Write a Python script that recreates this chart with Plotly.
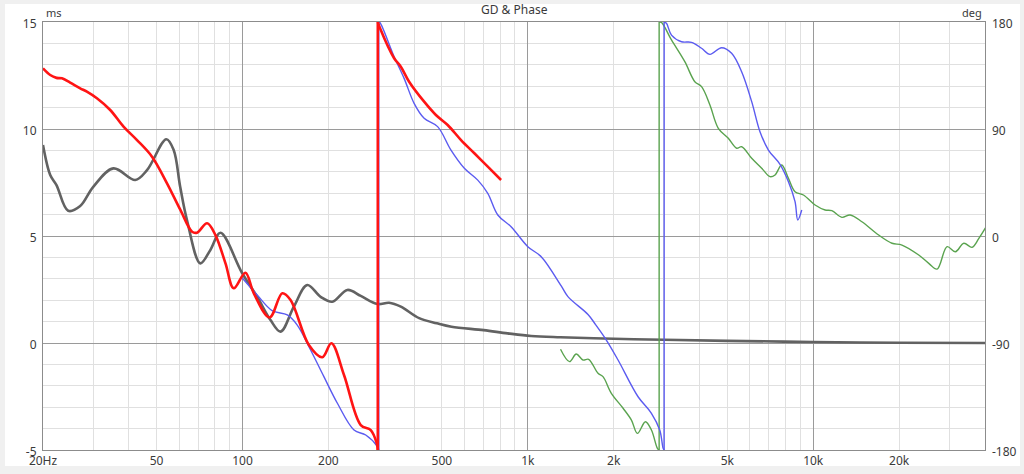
import plotly.graph_objects as go

# group delay (ms), grey trace
gd_freq = [20, 21.2, 22.3, 24.5, 27, 30, 35.3, 42.1, 46.3, 54.1, 57.4, 60.5, 63.9, 71.2, 77.2, 83.7,
           99.7, 112.6, 125.4, 136, 151.4, 168.7, 187.9, 206.5, 233.2, 259.7, 297, 326.5, 358.9,
           416, 480, 540, 700, 850, 1027, 1300, 2000, 3000, 5000, 10000, 20000, 40000]
gd_ms = [9.25, 7.85, 7.38, 6.18, 6.40, 7.30, 8.16, 7.62, 8.08, 9.52, 9.02, 7.30, 5.75, 3.72, 4.35, 5.15,
         3.27, 2.16, 1.07, 0.53, 1.70, 2.71, 2.16, 1.93, 2.48, 2.20, 1.82, 1.88, 1.70,
         1.16, 0.92, 0.76, 0.60, 0.45, 0.33, 0.27, 0.20, 0.15, 0.10, 0.05, 0.01, 0.0]

# phase (deg), red trace
red_freq = [20, 21.2, 22.3, 23.3, 24.9, 27, 28.5, 30.9, 34.4, 38.3, 42.7, 48.2, 54.4, 60.6, 66.6, 69.3,
            75.2, 80.4, 87.2, 93.2, 102.4, 109.6, 124.5, 137.9, 147.4, 170.9, 190.4, 204.9, 226.9,
            259.7, 281.6, 295.6, 298, 298, 303.5, 340, 358.9, 383.7, 433.2, 476.3, 523.7, 583.4,
            649.6, 723.9, 805.9]
red_deg = [141, 135.4, 133, 132.6, 129, 124.2, 121.4, 115.8, 106, 92, 80.7, 66.7, 44.3, 21.9, 3.6, 2.8,
           10.7, 0.8, -23, -44, -30.9, -48.2, -68.5, -48.2, -53.8, -91.7, -102, -90.2, -116.9,
           -159, -163.2, -174.4, -180, 180, 174.7, 149.5, 142.4, 129.8, 113, 101.8, 93.4, 80.7,
           69.6, 58.3, 47.1]

# phase (deg), blue trace
blue_freq = [100, 112.6, 127.1, 143.6, 155.6, 173.3, 192.9, 215.1, 246, 270.4, 297.2, 300.4, 300.4,
             303.5, 340, 368.5, 399.5, 433.2, 482.9, 537.9, 599.2, 667.7, 723.9, 784.9, 873.7, 1000,
             1114, 1309, 1382, 1625, 1714, 1884, 2071, 2434, 2711, 2899, 2980, 3004, 3004, 3061,
             3187, 3456, 3746, 4063, 4346, 4776, 5178, 5614, 6088, 6509, 6967, 7651, 8189, 8638,
             8829, 9118]
blue_deg = [-35.6, -49.6, -62.8, -66.4, -74.9, -95.9, -118.3, -140.7, -163.2, -167.4, -177.2, -180, 180,
            179.4, 150.8, 132.6, 111.6, 99, 92, 72.3, 57, 47, 35.9, 17.7, 7.8, -9,
            -17.4, -42, -51, -66, -73.4, -87.5, -104.3, -135.2, -149.1, -163.2, -178.6, -180, 180, 178.9,
            169, 163.4, 162.9, 157.9, 152.8, 158.4, 153.7, 138.2, 113, 87.7, 72.3, 60.3, 45.7, 28.9,
            13.5, 21.9]

# phase (deg), green trace
green_freq = [1302, 1400, 1478, 1561, 1633, 1762, 1834, 1962, 2157, 2307, 2421, 2583, 2711, 2845, 2885,
              2885, 2939, 3187, 3549, 3848, 4063, 4346, 4650, 5041, 5392, 5614, 6088, 6599, 7057,
              7349, 7758, 8189, 8638, 9245, 10153, 11010, 11622, 12603, 13477, 14813, 16958, 18885,
              20470, 23436, 25409, 27176, 29457, 31504, 33718, 36049, 38068, 40384]
green_deg = [-95.3, -105.7, -99.3, -104.3, -103.7, -115.5, -118.3, -132.3, -144.9, -154.8, -166, -156.2,
             -163.2, -178.6, -180, 180, 179.7, 164.9, 146.6, 129.8, 125.6, 110.2, 90.6, 82.2, 73.8, 75.1,
             65.4, 57, 49.9, 51.3, 59.7, 48.5, 37.3, 34.5, 26.1, 21.9, 21.3, 15.7, 17.7, 12, 0.8, -6.1,
             -7.6, -16, -23, -27.8, -9, -13.2, -6.1, -9.5, -2, 7.8]

x_tickvals = [20, 50, 100, 200, 500, 1000, 2000, 5000, 10000, 20000]
x_ticktext = ["20Hz", "50", "100", "200", "500", "1k", "2k", "5k", "10k", "20k"]
ms_ticks = [-5, 0, 5, 10, 15]
deg_ticks = [-180, -90, 0, 90, 180]

minor_x = [m * 10 ** e for e in range(1, 5) for m in range(2, 10) if 20 <= m * 10 ** e <= 40000]


def add_phase(fig, freq, deg, color, width):
    # smooth pieces between the wraps, straight vertical line at each wrap
    start = 0
    for i in range(1, len(deg)):
        if abs(deg[i] - deg[i - 1]) > 300:
            fig.add_trace(go.Scatter(x=freq[start:i], y=deg[start:i], yaxis="y2", mode="lines",
                                     line=dict(color=color, width=width, shape="spline")))
            fig.add_trace(go.Scatter(x=freq[i - 1:i + 1], y=deg[i - 1:i + 1], yaxis="y2", mode="lines",
                                     line=dict(color=color, width=width)))
            start = i
    fig.add_trace(go.Scatter(x=freq[start:], y=deg[start:], yaxis="y2", mode="lines",
                             line=dict(color=color, width=width, shape="spline")))


fig = go.Figure()
fig.add_trace(go.Scatter(x=gd_freq, y=gd_ms, mode="lines", line=dict(color="#626262", width=2.6, shape="spline")))
add_phase(fig, green_freq, green_deg, "#5aa34f", 1.4)
add_phase(fig, blue_freq, blue_deg, "#5b5bf0", 1.4)
add_phase(fig, red_freq, red_deg, "#ff1414", 2.6)
# empty trace so the decade grid axis gets drawn
fig.add_trace(go.Scatter(x=[], y=[], xaxis="x2", yaxis="y", mode="lines"))

font = dict(family="Noto Sans, Open Sans, sans-serif", size=12, color="#3a3a3a")

fig.update_layout(
    width=1024, height=474,
    margin=dict(l=43, r=39, t=22, b=24),
    paper_bgcolor="#f0f0f0",
    plot_bgcolor="white",
    showlegend=False,
    font=font,
    xaxis=dict(type="log", range=[1.30103, 4.60206], tickvals=x_tickvals, ticktext=x_ticktext,
               showgrid=True, gridcolor="#e0e0e0", gridwidth=1, ticks="", automargin=False,
               minor=dict(tickvals=minor_x, showgrid=True, gridcolor="#e0e0e0", ticks=""),
               showline=True, mirror=True, linecolor="#8c8c8c", linewidth=1, zeroline=False,
               ticklabelstandoff=0),
    xaxis2=dict(type="log", range=[1.30103, 4.60206], overlaying="x", side="bottom",
                tickvals=[100, 1000, 10000], showticklabels=False, ticks="", automargin=False,
                showgrid=True, gridcolor="#9a9a9a", gridwidth=1, showline=False, zeroline=False),
    yaxis=dict(range=[-5, 15], tickvals=ms_ticks, ticktext=[str(v) for v in ms_ticks],
               showgrid=True, gridcolor="#9a9a9a", gridwidth=1, ticks="", automargin=False,
               minor=dict(dtick=1, showgrid=True, gridcolor="#e0e0e0", ticks=""),
               showline=True, mirror=True, linecolor="#8c8c8c", linewidth=1, zeroline=False,
               ticklabelstandoff=3, ticklabelshift=2),
    yaxis2=dict(range=[-180, 180], overlaying="y", side="right", tickvals=deg_ticks,
                ticktext=[str(v) for v in deg_ticks], showgrid=False, ticks="", zeroline=False,
                showline=False, ticklabelstandoff=6, ticklabelshift=2, automargin=False),
)

# white panel behind the chart with a thin grey frame around the window
fig.add_shape(type="rect", xref="paper", yref="paper", x0=-0.0403, x1=1.0372, y0=-0.0374, y1=1.042,
              fillcolor="white", line=dict(width=0), layer="below")

fig.add_annotation(text="GD & Phase", xref="paper", yref="paper", x=0.5, y=1.0, yshift=2,
                   xanchor="center", yanchor="bottom", showarrow=False, font=font)
fig.add_annotation(text="ms", xref="paper", yref="paper", x=0.0, y=1.0, xshift=1,
                   xanchor="left", yanchor="bottom", showarrow=False, font=dict(size=11, color="#3a3a3a"))
fig.add_annotation(text="deg", xref="paper", yref="paper", x=1.0, y=1.0, xshift=-1,
                   xanchor="right", yanchor="bottom", showarrow=False, font=dict(size=11, color="#3a3a3a"))

# page has a default 8px body margin, drop it so the figure sits at the window corner
fig.write_html("out.html", config={"displayModeBar": False},
               post_script="document.body.style.margin='0px';")
